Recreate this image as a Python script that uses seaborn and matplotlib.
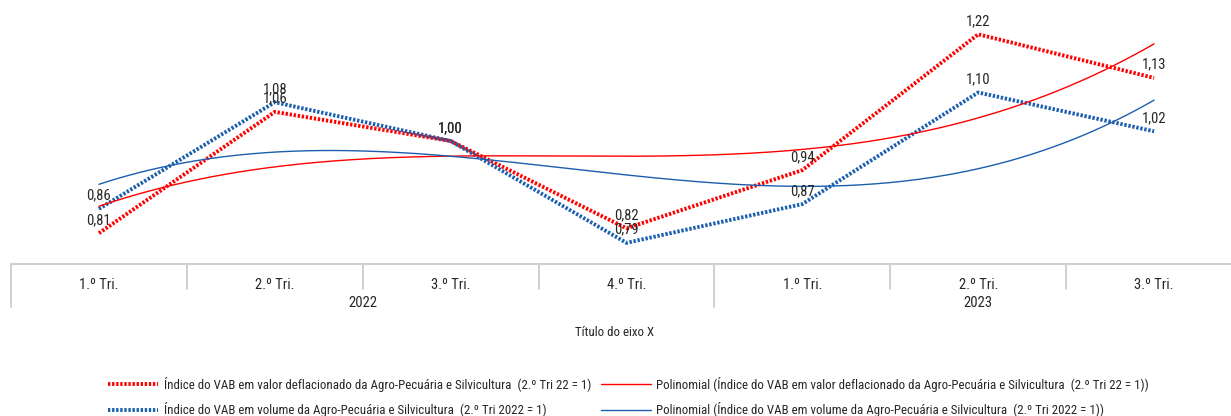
import numpy as np
import pandas as pd
import matplotlib
matplotlib.use("Agg")
import matplotlib.pyplot as plt
import matplotlib.transforms as mtransforms
from matplotlib import font_manager
from matplotlib.lines import Line2D
import seaborn as sns

# Quarterly indices (2.º Tri 2022 = 1)
quarters = ["1.º Tri.", "2.º Tri.", "3.º Tri.", "4.º Tri.", "1.º Tri.", "2.º Tri.", "3.º Tri."]
years = ["2022", "2023"]
year_spans = [(0, 3), (4, 6)]  # first and last quarter index of each year
valor_deflacionado = [0.81, 1.06, 1.00, 0.82, 0.94, 1.22, 1.13]
volume = [0.86, 1.08, 1.00, 0.79, 0.87, 1.10, 1.02]

label_valor = "Índice do VAB em valor deflacionado da Agro-Pecuária e Silvicultura  (2.º Tri 22 = 1)"
label_volume = "Índice do VAB em volume da Agro-Pecuária e Silvicultura  (2.º Tri 2022 = 1)"

RED = "#FF0000"
BLUE = "#1B5EAE"
TXT = "#262626"

sns.set_theme(style="white")

# Prefer a narrow sans face when one is installed
installed = {f.name for f in font_manager.fontManager.ttflist}
narrow = [n for n in ("Liberation Sans Narrow", "DejaVu Sans Condensed",
                      "Roboto Condensed", "Open Sans Condensed") if n in installed]
plt.rcParams["font.family"] = narrow + ["Liberation Sans", "DejaVu Sans"]
condensed = bool(narrow)
fs_label = 10.5 if condensed else 10
fs_legend = 9.3 if condensed else 8.5

W, H = 1231, 416
fig = plt.figure(figsize=(W / 100, H / 100), dpi=100)
ax = fig.add_axes([11 / W, (H - 264) / H, 1.0, 264 / H])

df = pd.DataFrame({"pos": np.arange(len(quarters)),
                   "valor": valor_deflacionado,
                   "volume": volume})

dot_style = (0, (0.6, 0.45))
handles = []
for col, color in (("valor", RED), ("volume", BLUE)):
    sns.lineplot(data=df, x="pos", y=col, color=color, linewidth=2.8, ax=ax)
    ln = ax.lines[-1]
    ln.set_linestyle(dot_style)
    ln.set_dash_capstyle("butt")
    handles.append(ln)

# Cubic polynomial trendlines across the observed range
trend_handles = []
xs = np.linspace(0, len(quarters) - 1, 300)
for col, color in (("valor", RED), ("volume", BLUE)):
    coef = np.polyfit(df["pos"], df[col], 3)
    sns.lineplot(x=xs, y=np.polyval(coef, xs), color=color, linewidth=1.0, ax=ax)
    trend_handles.append(ax.lines[-1])

# Data labels
for col in ("valor", "volume"):
    for x, v in zip(df["pos"], df[col]):
        ax.annotate(f"{v:.2f}".replace(".", ","), (x, v), xytext=(0, 9.5),
                    textcoords="offset points", ha="center", va="center",
                    fontsize=fs_label, color=TXT)

ax.set_xlim(-0.5, len(quarters) - 0.5)
ax.set_ylim(0.7464, 1.2907)
ax.set_yticks([])
ax.set_xticks([])
ax.set_xlabel("")
ax.set_ylabel("")
for side in ("left", "right", "top"):
    ax.spines[side].set_visible(False)
ax.spines["bottom"].set_color("#D0D0D0")
ax.spines["bottom"].set_linewidth(1.5)

# Multi-level category axis
trans = mtransforms.blended_transform_factory(ax.transData, ax.transAxes)
px = 1 / 264  # axes fraction per pixel
for i, q in enumerate(quarters):
    ax.text(i, -21 * px, q, transform=trans, ha="center", va="center",
            fontsize=fs_label, color=TXT)
year_edges = set()
for (a, b), yl in zip(year_spans, years):
    ax.text((a + b) / 2, -39 * px, yl, transform=trans, ha="center", va="center",
            fontsize=fs_label, color=TXT)
    year_edges.update([a - 0.5, b + 0.5])
for e in np.arange(-0.5, len(quarters), 1.0):
    depth = 43 if e in year_edges else 25
    ax.add_line(Line2D([e, e], [0, -depth * px], transform=trans, color="#C8C8C8",
                       linewidth=1.2, clip_on=False))

fig.text(615 / W, 1 - 332 / H, "Título do eixo X", ha="center", va="center",
         fontsize=fs_legend, color=TXT)

leg_handles = [handles[0], handles[1], trend_handles[0], trend_handles[1]]
leg_labels = [label_valor, label_volume,
              f"Polinomial ({label_valor})", f"Polinomial ({label_volume})"]
fig.legend(leg_handles, leg_labels, ncol=2, loc="upper left",
           bbox_to_anchor=(108 / W, 1 - 377 / H), frameon=False, fontsize=fs_legend,
           handlelength=3.9, handletextpad=0.4, columnspacing=0.75,
           labelspacing=0.8, borderpad=0, borderaxespad=0, labelcolor=TXT)

fig.savefig("out.png", dpi=100)
